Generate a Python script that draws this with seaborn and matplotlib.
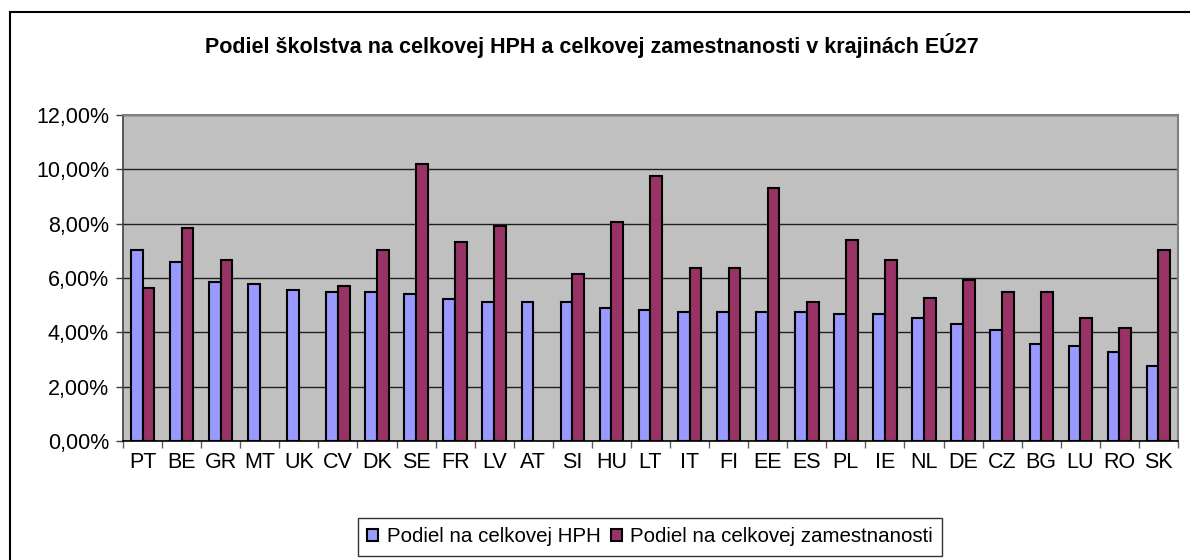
import numpy as np
import pandas as pd
import matplotlib
matplotlib.use("Agg")
import matplotlib.pyplot as plt
from matplotlib.patches import Rectangle
from matplotlib.ticker import FuncFormatter, FixedLocator
import seaborn as sns

# ---- data ----
countries = ["PT", "BE", "GR", "MT", "UK", "CV", "DK", "SE", "FR", "LV", "AT", "SI", "HU", "LT",
             "IT", "FI", "EE", "ES", "PL", "IE", "NL", "DE", "CZ", "BG", "LU", "RO", "SK"]
hph_share = [7.03, 6.60, 5.86, 5.79, 5.57, 5.50, 5.50, 5.42, 5.21, 5.13, 5.13, 5.13, 4.91, 4.83,
             4.76, 4.76, 4.76, 4.76, 4.69, 4.69, 4.54, 4.32, 4.10, 3.58, 3.51, 3.29, 2.77]
emp_share = [5.63, 7.85, 6.66, np.nan, np.nan, 5.72, 7.03, 10.21, 7.34, 7.93, np.nan, 6.16, 8.07, 9.77,
             6.38, 6.38, 9.32, 5.13, 7.40, 6.66, 5.27, 5.94, 5.50, 5.50, 4.54, 4.17, 7.03]
series_names = ["Podiel na celkovej HPH", "Podiel na celkovej zamestnanosti"]
title = "Podiel školstva na celkovej HPH a celkovej zamestnanosti v krajinách EÚ27"
y_ticks = [0, 2, 4, 6, 8, 10, 12]

df = pd.DataFrame({
    "country": countries * 2,
    "series": [series_names[0]] * len(countries) + [series_names[1]] * len(countries),
    "value": hph_share + emp_share,
}).dropna()

sns.set_theme(style="white")
plt.rcParams["font.family"] = ["Liberation Sans", "DejaVu Sans"]
plt.rcParams["text.color"] = "black"
plt.rcParams["xtick.color"] = "black"
plt.rcParams["ytick.color"] = "black"

W, H = 1190, 560
fig = plt.figure(figsize=(W / 100, H / 100), dpi=100)
ax = fig.add_axes([123 / W, 1 - 441 / H, (1178 - 123) / W, (441 - 115) / H])

palette = {series_names[0]: "#9999FF", series_names[1]: "#993366"}
sns.barplot(data=df, x="country", y="value", hue="series", order=countries,
            hue_order=series_names, palette=palette, width=0.6, errorbar=None,
            edgecolor="black", linewidth=1.5, saturation=1, ax=ax, legend=True)

ax.set_facecolor("#C0C0C0")
ax.set_xlim(-0.5, len(countries) - 0.5)
ax.set_ylim(0, 12)
ax.set_yticks(y_ticks)
ax.yaxis.set_major_formatter(FuncFormatter(lambda v, p: f"{v:.2f}%".replace(".", ",")))
ax.grid(axis="y", color="#202020", linewidth=1.0)
ax.set_axisbelow(True)
ax.set_xlabel("")
ax.set_ylabel("")

ax.tick_params(axis="y", which="major", direction="out", length=5, width=1, color="#404040",
               labelsize=15.5, pad=5, left=True, labelcolor="black")
ax.tick_params(axis="x", which="major", length=0, labelsize=15.5, pad=8, labelcolor="black")
ax.xaxis.set_minor_locator(FixedLocator(np.arange(-0.5, len(countries), 1.0)))
ax.tick_params(axis="x", which="minor", direction="out", length=5, width=1, color="#606060", bottom=True)

for side in ["top", "right"]:
    ax.spines[side].set_color("#808080")
    ax.spines[side].set_linewidth(1.5)
ax.spines["left"].set_color("#404040")
ax.spines["left"].set_linewidth(1.2)
ax.spines["bottom"].set_color("black")
ax.spines["bottom"].set_linewidth(1.2)

handles, labels = ax.get_legend_handles_labels()
ax.get_legend().remove()
leg = fig.legend(handles, labels, loc="center", bbox_to_anchor=(650 / W, 1 - 537 / H), ncol=2,
                 frameon=True, fancybox=False, fontsize=14.8, handlelength=0.55, handleheight=0.55,
                 handletextpad=0.4, columnspacing=0.5, borderpad=0.45, borderaxespad=0)
leg.get_frame().set_edgecolor("black")
leg.get_frame().set_linewidth(1.0)

fig.text(592 / W, 1 - 45 / H, title, ha="center", va="center", fontsize=15.5, fontweight="bold",
         color="black")

fig.patches.append(Rectangle((10 / W, -0.1), 1.2, (H - 12) / H + 0.1, transform=fig.transFigure,
                             fill=False, edgecolor="black", linewidth=1.5))

fig.savefig("out.png", dpi=100)
